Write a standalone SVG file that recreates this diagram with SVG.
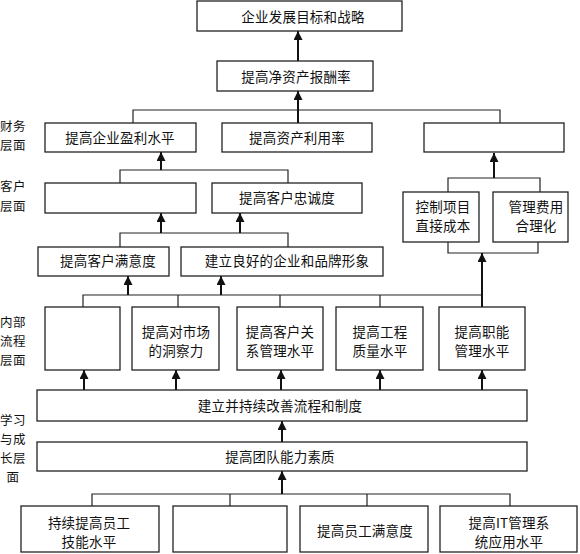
<svg xmlns="http://www.w3.org/2000/svg" width="580" height="554" viewBox="0 0 580 554">
<defs>
<style>
.box{fill:#fff;stroke:#222;stroke-width:1.3}
.t{font-family:"Noto Sans CJK SC","Noto Sans",sans-serif;font-size:13.5px;letter-spacing:0.2px;fill:#111;text-anchor:middle}
.lab{font-family:"Noto Sans CJK SC","Noto Sans",sans-serif;font-size:12.5px;letter-spacing:0.5px;fill:#111;text-anchor:middle}
.c{fill:none;stroke:#222;stroke-width:1.2}
.a{fill:none;stroke:#111;stroke-width:2;marker-end:url(#ah)}
</style>
<marker id="ah" viewBox="0 0 10 10" refX="10" refY="5" markerWidth="10" markerHeight="9" markerUnits="userSpaceOnUse" orient="auto">
<path d="M0,0 L10,5 L0,10 z" fill="#111"/>
</marker>
</defs>
<rect width="580" height="554" fill="#fff"/>

<g id="labels">
<text class="lab" x="13" y="131">财务</text>
<text class="lab" x="13" y="150">层面</text>
<text class="lab" x="13" y="191">客户</text>
<text class="lab" x="13" y="211">层面</text>
<text class="lab" x="13" y="327">内部</text>
<text class="lab" x="13" y="346">流程</text>
<text class="lab" x="13" y="365">层面</text>
<text class="lab" x="13" y="425">学习</text>
<text class="lab" x="13" y="444">与成</text>
<text class="lab" x="13" y="463">长层</text>
<text class="lab" x="13" y="482">面</text>
</g>

<g id="connectors">
<path class="c" d="M133,123 V110 H500 V123"/>
<path class="c" d="M120,183 V170 H288 V183"/>
<path class="c" d="M448,192 V178 H540 V192"/>
<path class="c" d="M120,247 V233 H288 V247"/>
<path class="c" d="M448,242 V253 H538 V242"/>
<path class="c" d="M83,307 V295 H482 V307 M178,295 V307 M280,295 V307 M380,295 V307"/>
<path class="c" d="M92,506 V494 H510 V506 M230,494 V506 M367,494 V506"/>
<line class="a" x1="298" y1="61" x2="298" y2="31"/>
<line class="a" x1="298" y1="123" x2="298" y2="91"/>
<line class="a" x1="161" y1="170" x2="161" y2="152"/>
<line class="a" x1="494" y1="178" x2="494" y2="153"/>
<line class="a" x1="161" y1="233" x2="161" y2="213"/>
<line class="a" x1="240" y1="233" x2="240" y2="213"/>
<line class="a" x1="128" y1="295" x2="128" y2="276"/>
<line class="a" x1="221" y1="295" x2="221" y2="276"/>
<line class="a" x1="482" y1="307" x2="482" y2="253"/>
<line class="a" x1="84" y1="390" x2="84" y2="370"/>
<line class="a" x1="176" y1="390" x2="176" y2="370"/>
<line class="a" x1="281" y1="390" x2="281" y2="370"/>
<line class="a" x1="380" y1="390" x2="380" y2="370"/>
<line class="a" x1="482" y1="390" x2="482" y2="370"/>
<line class="a" x1="282" y1="442" x2="282" y2="421"/>
<line class="a" x1="282" y1="494" x2="282" y2="471"/>
</g>

<g id="n-goal"><rect class="box" x="197" y="1" width="205" height="30"/><text class="t" x="303" y="22">企业发展目标和战略</text></g>
<g id="n-roe"><rect class="box" x="217" y="61" width="156" height="30"/><text class="t" x="296" y="82">提高净资产报酬率</text></g>

<g id="n-f1"><rect class="box" x="45" y="123" width="151" height="29"/><text class="t" x="120" y="143">提高企业盈利水平</text></g>
<g id="n-f2"><rect class="box" x="222" y="123" width="150" height="29"/><text class="t" x="297" y="143">提高资产利用率</text></g>
<g id="n-f3"><rect class="box" x="424" y="123" width="140" height="29"/></g>

<g id="n-c1"><rect class="box" x="45" y="183" width="151" height="30"/></g>
<g id="n-c2"><rect class="box" x="212" y="183" width="150" height="30"/><text class="t" x="287" y="203">提高客户忠诚度</text></g>

<g id="n-k1"><rect class="box" x="403" y="192" width="76" height="50"/><text class="t" x="443" y="212">控制项目</text><text class="t" x="443" y="231">直接成本</text></g>
<g id="n-k2"><rect class="box" x="493" y="192" width="75" height="50"/><text class="t" x="536" y="212">管理费用</text><text class="t" x="536" y="231">合理化</text></g>

<g id="n-c3"><rect class="box" x="38" y="247" width="131" height="29"/><text class="t" x="108" y="266">提高客户满意度</text></g>
<g id="n-c4"><rect class="box" x="181" y="247" width="202" height="29"/><text class="t" x="287" y="266">建立良好的企业和品牌形象</text></g>

<g id="n-p1"><rect class="box" x="45" y="307" width="75" height="63"/></g>
<g id="n-p2"><rect class="box" x="132" y="307" width="87" height="63"/><text class="t" x="176" y="337">提高对市场</text><text class="t" x="176" y="356">的洞察力</text></g>
<g id="n-p3"><rect class="box" x="237" y="307" width="86" height="63"/><text class="t" x="280" y="337">提高客户关</text><text class="t" x="280" y="356">系管理水平</text></g>
<g id="n-p4"><rect class="box" x="336" y="307" width="87" height="63"/><text class="t" x="380" y="337">提高工程</text><text class="t" x="380" y="356">质量水平</text></g>
<g id="n-p5"><rect class="box" x="439" y="307" width="86" height="63"/><text class="t" x="482" y="337">提高职能</text><text class="t" x="482" y="356">管理水平</text></g>

<g id="n-l1"><rect class="box" x="37" y="390" width="490" height="31"/><text class="t" x="280" y="411">建立并持续改善流程和制度</text></g>
<g id="n-l2"><rect class="box" x="37" y="442" width="490" height="29"/><text class="t" x="280" y="462">提高团队能力素质</text></g>

<g id="n-b1"><rect class="box" x="21" y="506" width="138" height="46"/><text class="t" x="89" y="528">持续提高员工</text><text class="t" x="89" y="547">技能水平</text></g>
<g id="n-b2"><rect class="box" x="173" y="506" width="114" height="46"/></g>
<g id="n-b3"><rect class="box" x="300" y="506" width="128" height="46"/><text class="t" x="365" y="536">提高员工满意度</text></g>
<g id="n-b4"><rect class="box" x="440" y="506" width="137" height="46"/><text class="t" x="509" y="528">提高IT管理系</text><text class="t" x="509" y="547">统应用水平</text></g>
</svg>
